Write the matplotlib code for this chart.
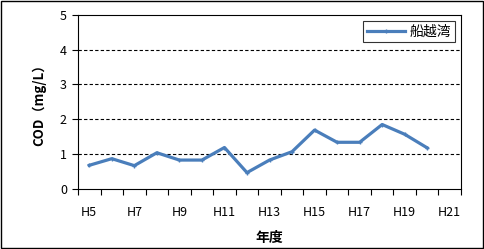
import matplotlib
matplotlib.use("Agg")
import matplotlib.pyplot as plt
from matplotlib.patches import Rectangle
import numpy as np

plt.rcParams['font.family'] = ['Noto Sans CJK JP', 'DejaVu Sans']

# fiscal years H5..H21, values up to H20
years = ["H%d" % y for y in range(5, 22)]
cod = [0.68, 0.87, 0.67, 1.04, 0.83, 0.83, 1.19, 0.47, 0.83, 1.07,
       1.69, 1.34, 1.34, 1.85, 1.57, 1.18]
series_name = "船越湾"

fig = plt.figure(figsize=(4.84, 2.49), dpi=100)
ax = fig.add_axes([78 / 484, 1 - 189 / 249, (461 - 78) / 484, (189 - 14.7) / 249])

x = np.arange(len(cod))
ax.plot(x, cod, color="#4A7EBB", lw=2.3, marker="+", ms=3.5, mew=1.0, label=series_name)

ax.set_xlim(-0.5, len(years) - 0.5)
ax.set_ylim(0, 5)
ax.set_yticks(range(6))
ax.set_yticklabels([str(v) for v in range(6)], fontsize=9)

# category ticks between categories, labels every other year
ax.set_xticks(np.arange(len(years) + 1) - 0.5)
ax.set_xticklabels([])
ax.set_xticks(np.arange(0, len(years), 2), minor=True)
ax.set_xticklabels(years[::2], minor=True, fontsize=9)
ax.tick_params(axis="x", which="minor", length=0, pad=12)
ax.tick_params(axis="x", which="major", length=4, direction="out", width=0.8)
ax.tick_params(axis="y", length=4, direction="out", width=0.8, pad=4)

for v in [1, 2, 3, 4]:
    ax.axhline(v, color="black", lw=0.8, ls=(0, (3, 2)), zorder=0)

for s in ax.spines.values():
    s.set_linewidth(0.8)

ax.set_ylabel("COD（mg/L）", fontsize=9.5, fontweight="bold", labelpad=10)
ax.set_xlabel("年度", fontsize=10, fontweight="bold", labelpad=9)

leg = ax.legend(loc="upper right", fontsize=10, frameon=True, fancybox=False,
                borderaxespad=0.45, handlelength=2.8, handletextpad=0.3, borderpad=0.25)
leg.get_frame().set_edgecolor("black")
leg.get_frame().set_linewidth(0.8)

fig.patches.append(Rectangle((0.002, 0.004), 0.995, 0.992, transform=fig.transFigure,
                             fill=False, edgecolor="black", lw=1.0))

plt.savefig("out.png", dpi=100)
